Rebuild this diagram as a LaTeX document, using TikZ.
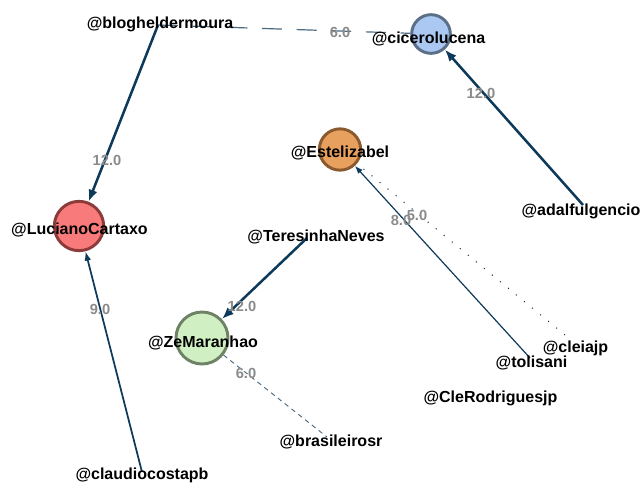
\documentclass[tikz,border=0pt]{standalone}
\usepackage{fontspec}
\setmainfont{Liberation Sans}
\usetikzlibrary{arrows.meta}
\definecolor{edgec}{HTML}{0D3A5A}
\definecolor{dashc}{HTML}{4A6A82}
\definecolor{wtc}{HTML}{8A8A8A}
\definecolor{bluef}{HTML}{ABC8F3}
\definecolor{blued}{HTML}{5B6F88}
\definecolor{redf}{HTML}{F97A7A}
\definecolor{redd}{HTML}{8C3B3B}
\definecolor{orgf}{HTML}{E8A05E}
\definecolor{orgd}{HTML}{8A5A2E}
\definecolor{grnf}{HTML}{D0F0C4}
\definecolor{grnd}{HTML}{6E8266}
\pgfdeclarelayer{edges}
\pgfsetlayers{edges,main}
\begin{document}
\begin{tikzpicture}[x=0.75pt,y=-0.75pt,
  lbl/.style={font=\fontsize{12}{14}\selectfont\bfseries, text=black, inner sep=0pt},
  wt/.style={font=\fontsize{11}{13}\selectfont\bfseries, text=wtc, inner sep=0pt},
  vtx/.style={circle, line width=2.2pt, inner sep=0pt},
  heavy/.style={draw=edgec, line width=1.9pt, -{Latex[length=9pt,width=7pt]}},
  medium/.style={draw=edgec, line width=1.3pt, -{Latex[length=7pt,width=5pt]}},
  light/.style={draw=edgec, line width=0.9pt, -{Latex[length=6pt,width=4.5pt]}},
  longdash/.style={draw=dashc, line width=0.9pt, dash pattern=on 15pt off 11pt},
  shortdash/.style={draw=dashc, line width=0.7pt, dash pattern=on 3.5pt off 3pt},
  dotline/.style={draw=edgec, line width=0.8pt, dash pattern=on 0.8pt off 7pt}
]
\useasboundingbox (0,0) rectangle (641,482);

% vertices with circles
\node[vtx, draw=blued, fill=bluef, minimum size=29pt] (cic) at (431,34) {};
\node[vtx, draw=redd, fill=redf, minimum size=37pt] (luc) at (79,226) {};
\node[vtx, draw=orgd, fill=orgf, minimum size=31pt] (est) at (340,149.5) {};
\node[vtx, draw=grnd, fill=grnf, minimum size=39pt] (ze) at (202,338) {};

% vertices without circles
\coordinate (blogP) at (158,25);
\coordinate (adalP) at (583,205);
\coordinate (terP) at (307,238);
\coordinate (toliP) at (530,358);
\coordinate (cleiaP) at (565,335);
\coordinate (brasP) at (327,437);
\coordinate (claudP) at (142,472);

% labels
\node[lbl] (cicT) at (428.5,39) {@cicerolucena};
\node[lbl] (lucT) at (79.5,230) {@LucianoCartaxo};
\node[lbl] (estT) at (340,153) {@Estelizabel};
\node[lbl] (zeT) at (203,343) {@ZeMaranhao};
\node[lbl] (blogT) at (160,24) {@blogheldermoura};
\node[lbl] (adalT) at (581,211) {@adalfulgencio};
\node[lbl] (terT) at (316,237) {@TeresinhaNeves};
\node[lbl] (toliT) at (531.5,363) {@tolisani};
\node[lbl] (cleiaT) at (575.5,348) {@cleiajp};
\node[lbl] (cleT) at (490.5,398) {@CleRodriguesjp};
\node[lbl] (brasT) at (331,442) {@brasileirosr};
\node[lbl] (claudT) at (142,475) {@claudiocostapb};

% edges
\begin{pgfonlayer}{edges}
\draw[heavy] (blogP) -- (luc);
\draw[longdash] (blogP) -- (cic);
\draw[heavy] (adalP) -- (cic);
\draw[light] (toliP) -- (est);
\draw[dotline] (cleiaP) -- (est);
\draw[heavy] (terP) -- (ze);
\draw[shortdash] (ze) -- (brasP);
\draw[medium] (claudP) -- (luc);
\end{pgfonlayer}

% edge weights
\node[wt] (w1) at (107,160) {12.0};
\node[wt] (w2) at (340,32) {6.0};
\node[wt] (w3) at (481,93) {12.0};
\node[wt] (w4) at (401,220) {8.0};
\node[wt] (w5) at (417,215) {5.0};
\node[wt] (w6) at (242,306) {12.0};
\node[wt] (w7) at (246,373) {6.0};
\node[wt] (w8) at (100,309) {9.0};
\end{tikzpicture}
\end{document}
